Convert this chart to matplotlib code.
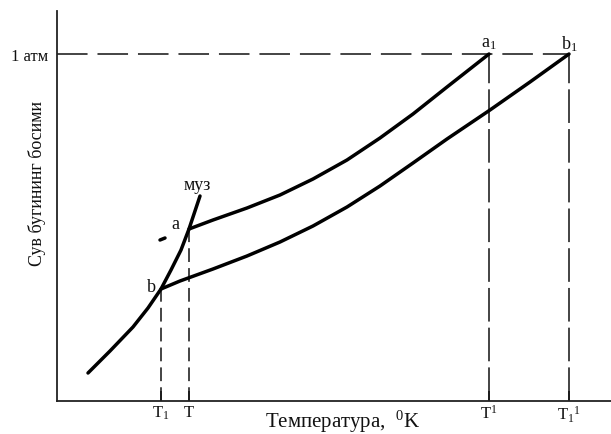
import numpy as np
import matplotlib.pyplot as plt

plt.rcParams['font.family'] = ['Liberation Serif', 'DejaVu Serif']
plt.rcParams['mathtext.fontset'] = 'custom'
plt.rcParams['mathtext.rm'] = 'Liberation Serif'
plt.rcParams['mathtext.it'] = 'Liberation Serif'

# schematic units (temperature, pressure)
ice_t = [31, 53, 76, 91, 104, 114, 124, 132, 137, 143]
ice_p = [28, 50, 74, 93, 112, 131, 151, 172, 187, 205]

water_t = [132, 156, 190, 223, 256, 290, 323, 356, 390, 432]
water_p = [172, 181, 193, 206, 222, 241, 263, 287, 314, 347]

solution_t = [104, 123, 156, 190, 223, 256, 290, 323, 356, 390, 433, 473, 512]
solution_p = [112, 120, 132, 145, 159, 175, 194, 215, 238, 262, 291, 319, 347]

p_atm = 347
tick_t = [104, 132, 432, 512]
tick_labels = [r'$\mathrm{T_1}$', r'$\mathrm{T}$', r'$\mathrm{T^1}$', r'$\mathrm{T_1{}^1}$']
stray_t = [103, 108]
stray_p = [161, 163]

fig = plt.figure(figsize=(6.11, 4.35), dpi=100)
ax = fig.add_axes([57 / 611, 33 / 435, 554 / 611, 390 / 435])
ax.set_xlim(0, 554)
ax.set_ylim(0, 390)

for s in ['top', 'right']:
    ax.spines[s].set_visible(False)
for s in ['left', 'bottom']:
    ax.spines[s].set_linewidth(1.3)
    ax.spines[s].set_color('#222222')

# guide lines
ax.plot([0, tick_t[3]], [p_atm, p_atm], color='#111111', lw=1.1, ls=(0, (20, 6.5)))
ax.plot([tick_t[2], tick_t[2]], [0, p_atm], color='#111111', lw=1.1, ls=(0, (22, 4)))
ax.plot([tick_t[3], tick_t[3]], [0, p_atm], color='#111111', lw=1.1, ls=(0, (22, 4)))
ax.plot([tick_t[0], tick_t[0]], [0, solution_p[0]], color='#111111', lw=1.1, ls=(0, (9, 4)))
ax.plot([tick_t[1], tick_t[1]], [0, water_p[0]], color='#111111', lw=1.1, ls=(0, (9, 4)))

# curves
kw = dict(color='black', lw=2.5, solid_capstyle='round', solid_joinstyle='round')
ax.plot(ice_t, ice_p, **kw)
ax.plot(water_t, water_p, **kw)
ax.plot(solution_t, solution_p, **kw)
ax.plot(stray_t, stray_p, **kw)

ax.set_xticks(tick_t)
ax.set_xticklabels(tick_labels, fontsize=12)
ax.tick_params(axis='x', direction='in', length=7, width=1.1, pad=2, colors='#111111')
ax.set_yticks([p_atm])
ax.set_yticklabels(['1 атм'], fontsize=12)
ax.tick_params(axis='y', length=0, pad=6, colors='#111111')

txt = dict(fontsize=13, ha='center', va='center', textcoords='offset points', color='#111111')
ax.annotate('муз', (ice_t[-1], ice_p[-1]), xytext=(-2, 8), **txt)
ax.annotate('a', (water_t[0], water_p[0]), xytext=(-10, 4), **txt)
ax.annotate('b', (solution_t[0], solution_p[0]), xytext=(-7, 2), **txt)
ax.annotate(r'$\mathrm{a_1}$', (water_t[-1], water_p[-1]), xytext=(0, 8), **txt)
ax.annotate(r'$\mathrm{b_1}$', (solution_t[-1], solution_p[-1]), xytext=(0, 8), **txt)

fig.text(343 / 611, 13 / 435, r'Температура,  $^0$K', fontsize=15, ha='center', va='center', color='#111111')
fig.text(37 / 611, 251 / 435, 'Сув бугининг босими', fontsize=13, rotation=90,
         ha='center', va='center', color='#111111')

fig.savefig('out.png', dpi=100)
